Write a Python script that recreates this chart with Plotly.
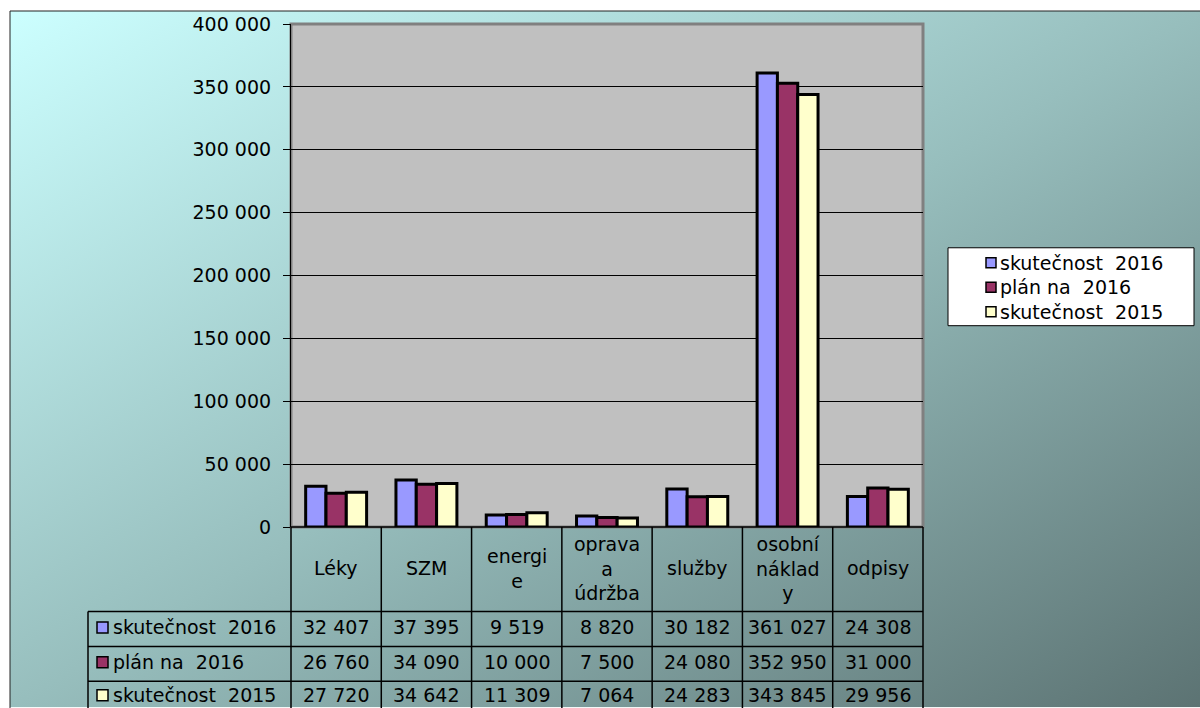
import base64
import plotly.graph_objects as go

categories = ["Léky", "SZM", "energie", "oprava a údržba", "služby", "osobní náklady", "odpisy"]
header_labels = ["Léky", "SZM", "energi<br>e", "oprava<br>a<br>údržba", "služby", "osobní<br>náklad<br>y", "odpisy"]
series_names = ["skutečnost\u00a0 2016", "plán na\u00a0 2016", "skutečnost\u00a0 2015"]
skutecnost_2016 = [32407, 37395, 9519, 8820, 30182, 361027, 24308]
plan_2016 = [26760, 34090, 10000, 7500, 24080, 352950, 31000]
skutecnost_2015 = [27720, 34642, 11309, 7064, 24283, 343845, 29956]
colors = ["#9999FF", "#993366", "#FFFFCC"]
y_ticks = [0, 50000, 100000, 150000, 200000, 250000, 300000, 350000, 400000]

series_values = [skutecnost_2016, plan_2016, skutecnost_2015]

W, H = 1200, 708
# plot area in page pixels
L, R = 291, 923
T, B = 24, 527.5
PW, PH = R - L, B - T


def xp(px):
    return (px - L) / PW


def yp(py):
    return (B - py) / PH


FONT = "DejaVu Sans"
FS = 19

fig = go.Figure()
for name, vals, col in zip(series_names, series_values, colors):
    fig.add_trace(go.Bar(
        x=categories, y=vals, name=name, showlegend=False,
        marker=dict(color=col, line=dict(color="black", width=3)),
    ))

# gradient background
svg = (
    '<svg xmlns="http://www.w3.org/2000/svg" width="1190" height="697" viewBox="0 0 1190 697" preserveAspectRatio="none">'
    '<defs><linearGradient id="g" x1="0" y1="0" x2="1" y2="1">'
    '<stop offset="0" stop-color="#CCFFFF"/>'
    '<stop offset="0.5" stop-color="#97BEBD"/>'
    '<stop offset="1" stop-color="#5C7373"/>'
    '</linearGradient></defs>'
    '<rect x="0" y="0" width="1190" height="697" fill="url(#g)"/></svg>'
)
uri = "data:image/svg+xml;base64," + base64.b64encode(svg.encode()).decode()
fig.add_layout_image(dict(
    source=uri, xref="paper", yref="paper",
    x=xp(10), y=yp(11), sizex=(W - 10) / PW, sizey=(H - 11) / PH,
    xanchor="left", yanchor="top", sizing="stretch", layer="below",
))

shapes = []
line_k = dict(color="black", width=1.5)
# plot area fill + gray border
shapes.append(dict(type="rect", xref="paper", yref="paper", x0=0, x1=1, y0=0, y1=1,
                   fillcolor="#C0C0C0", line=dict(color="#808080", width=3), layer="below"))
# outer chart border
shapes.append(dict(type="line", xref="paper", yref="paper", x0=xp(10), x1=xp(W + 10), y0=yp(11), y1=yp(11),
                   line=dict(color="#222222", width=1)))
shapes.append(dict(type="line", xref="paper", yref="paper", x0=xp(10), x1=xp(10), y0=yp(11), y1=yp(H + 10),
                   line=dict(color="#222222", width=1)))
# bottom line of plot / table top
shapes.append(dict(type="line", xref="paper", yref="paper", x0=0, x1=1, y0=0, y1=0, line=line_k))
# horizontal table lines
row_lines = [612, 647, 682]
for ry in row_lines:
    shapes.append(dict(type="line", xref="paper", yref="paper", x0=xp(88), x1=1, y0=yp(ry), y1=yp(ry), line=line_k))
# vertical lines
shapes.append(dict(type="line", xref="paper", yref="paper", x0=xp(88), x1=xp(88), y0=yp(612), y1=yp(H + 10), line=line_k))
n = len(categories)
for i in range(n + 1):
    xx = i / n
    shapes.append(dict(type="line", xref="paper", yref="paper", x0=xx, x1=xx, y0=0, y1=yp(H + 10), line=line_k))

row_centers = [628, 663, 696]
annotations = []
for i, lab in enumerate(header_labels):
    annotations.append(dict(x=categories[i], xref="x", y=yp(569), yref="paper", text=lab, showarrow=False,
                            font=dict(family=FONT, size=FS, color="black"), xanchor="center", yanchor="middle"))
for r, (name, vals, col) in enumerate(zip(series_names, series_values, colors)):
    cy = row_centers[r]
    shapes.append(dict(type="rect", xref="paper", yref="paper", x0=xp(97), x1=xp(108),
                       y0=yp(cy - 5.5), y1=yp(cy + 5.5), fillcolor=col, line=dict(color="black", width=1.5)))
    annotations.append(dict(x=xp(111), xref="paper", y=yp(cy), yref="paper", text=name, showarrow=False,
                            font=dict(family=FONT, size=FS, color="black"), xanchor="left", yanchor="middle"))
    for i, v in enumerate(vals):
        txt = f"{v:,}".replace(",", " ")
        annotations.append(dict(x=categories[i], xref="x", y=yp(cy), yref="paper", text=txt, showarrow=False,
                                font=dict(family=FONT, size=FS, color="black"), xanchor="center", yanchor="middle"))

# legend box (drawn manually)
shapes.append(dict(type="rect", xref="paper", yref="paper", x0=xp(948), x1=xp(1194), y0=yp(326), y1=yp(248),
                   fillcolor="white", line=dict(color="black", width=1)))
legend_centers = [263, 287.5, 312]
for name, col, cy in zip(series_names, colors, legend_centers):
    shapes.append(dict(type="rect", xref="paper", yref="paper", x0=xp(986), x1=xp(996),
                       y0=yp(cy - 5), y1=yp(cy + 5), fillcolor=col, line=dict(color="black", width=1.5)))
    annotations.append(dict(x=xp(998), xref="paper", y=yp(cy), yref="paper", text=name, showarrow=False,
                            font=dict(family=FONT, size=FS, color="black"), xanchor="left", yanchor="middle"))

fig.update_layout(
    width=W, height=H,
    margin=dict(l=L, r=W - R, t=T, b=H - B, autoexpand=False),
    paper_bgcolor="white",
    plot_bgcolor="rgba(0,0,0,0)",
    separators=", ",
    barmode="group",
    bargap=0.325,
    bargroupgap=0,
    showlegend=False,
    hovermode=False,
    xaxis=dict(showticklabels=False, ticks="", showgrid=False, showline=False, zeroline=False,
               range=[-0.5, n - 0.5]),
    yaxis=dict(range=[0, 400000], tickvals=y_ticks, tickformat=",d", showgrid=True, gridcolor="black",
               gridwidth=1.2, ticks="outside", ticklen=7, tickcolor="black", tickwidth=1.2,
               showline=True, linecolor="black", linewidth=1.2, zeroline=False,
               tickfont=dict(family=FONT, size=FS, color="black"), ticklabelstandoff=8),
    shapes=shapes,
    annotations=annotations,
    font=dict(family=FONT),
)

fig.write_html("out.html", config={"displayModeBar": False},
               post_script="document.body.style.margin='0px';document.body.style.overflow='hidden';")
